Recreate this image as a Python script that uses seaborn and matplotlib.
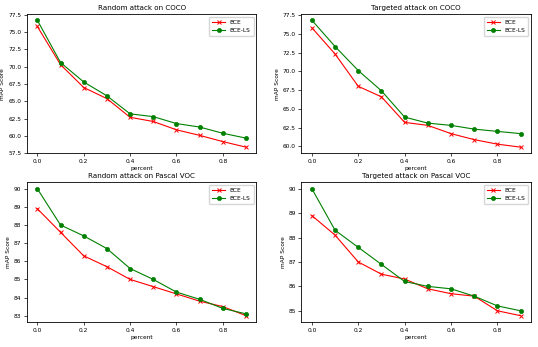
import numpy as np
import pandas as pd
import matplotlib
matplotlib.use('Agg')
import matplotlib.pyplot as plt
import seaborn as sns

percent = [0.0, 0.1, 0.2, 0.3, 0.4, 0.5, 0.6, 0.7, 0.8, 0.9]

coco_rand_bce = [75.8, 70.3, 67.0, 65.4, 62.7, 62.1, 60.9, 60.1, 59.2, 58.4]
coco_rand_ls = [76.7, 70.6, 67.8, 65.8, 63.2, 62.8, 61.8, 61.3, 60.4, 59.7]
coco_targ_bce = [75.8, 72.3, 68.0, 66.6, 63.2, 62.8, 61.7, 60.9, 60.3, 59.9]
coco_targ_ls = [76.8, 73.3, 70.1, 67.4, 63.9, 63.1, 62.8, 62.3, 62.0, 61.7]
voc_rand_bce = [88.9, 87.6, 86.3, 85.7, 85.0, 84.6, 84.2, 83.8, 83.5, 83.0]
voc_rand_ls = [90.0, 88.0, 87.4, 86.7, 85.6, 85.0, 84.3, 83.9, 83.4, 83.1]
voc_targ_bce = [88.9, 88.1, 87.0, 86.5, 86.3, 85.9, 85.7, 85.6, 85.0, 84.8]
voc_targ_ls = [90.0, 88.3, 87.6, 86.9, 86.2, 86.0, 85.9, 85.6, 85.2, 85.0]

panels = [
    ('Random attack on COCO', coco_rand_bce, coco_rand_ls),
    ('Targeted attack on COCO', coco_targ_bce, coco_targ_ls),
    ('Random attack on Pascal VOC', voc_rand_bce, voc_rand_ls),
    ('Targeted attack on Pascal VOC', voc_targ_bce, voc_targ_ls),
]

plt.rcParams.update({'font.size': 4.2})
fig, axes = plt.subplots(2, 2, figsize=(5.38, 3.47), dpi=100)
fig.subplots_adjust(left=0.05, right=0.987, top=0.96, bottom=0.072,
                    wspace=0.196, hspace=0.207)

for ax, (title, bce, ls) in zip(axes.flat, panels):
    sns.lineplot(x=percent, y=bce, color='red', marker='x', label='BCE',
                 linewidth=0.8, markersize=3, markeredgewidth=0.7,
                 markeredgecolor='red', ax=ax)
    sns.lineplot(x=percent, y=ls, color='green', marker='o', label='BCE-LS',
                 linewidth=0.8, markersize=3, markeredgewidth=0.5,
                 markeredgecolor='green', ax=ax)
    ax.set_title(title, fontsize=5.1, pad=3)
    ax.set_xlabel('percent', labelpad=1.5)
    ax.set_ylabel('mAP Score', labelpad=2)
    ax.tick_params(length=2.2, width=0.5, pad=1.8)
    for s in ax.spines.values():
        s.set_linewidth(0.6)
    ax.legend(loc='upper right', fontsize=4.2, handlelength=2.2,
              borderpad=0.5, labelspacing=0.5)

axes[0, 0].set_yticks(np.arange(57.5, 77.6, 2.5))
axes[0, 1].set_yticks(np.arange(60.0, 77.6, 2.5))

plt.savefig('out.png', dpi=100)
plt.close()
